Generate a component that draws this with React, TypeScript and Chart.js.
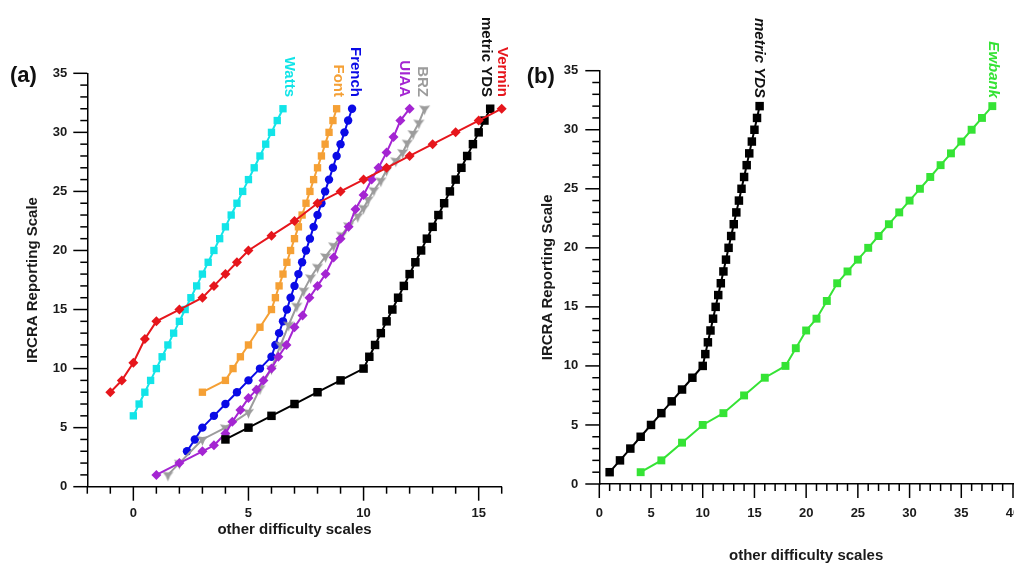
import React, { useEffect, useRef } from 'react';
import { Chart, registerables } from 'chart.js';

Chart.register(...registerables);

const FONT = '"Liberation Sans", Arial, Helvetica, sans-serif';

// ---------- Panel (a) data ----------
const wattsX = [0, 0.25, 0.5, 0.75, 1, 1.25, 1.5, 1.75, 2, 2.25, 2.5, 2.75, 3, 3.25, 3.5, 3.75, 4, 4.25, 4.5, 4.75, 5, 5.25, 5.5, 5.75, 6, 6.25, 6.5];
const wattsY = [6, 7, 8, 9, 10, 11, 12, 13, 14, 15, 16, 17, 18, 19, 20, 21, 22, 23, 24, 25, 26, 27, 28, 29, 30, 31, 32];

const fontX = [3, 4, 4.33, 4.65, 5, 5.5, 6, 6.17, 6.33, 6.5, 6.67, 6.83, 7, 7.17, 7.33, 7.5, 7.67, 7.83, 8, 8.17, 8.33, 8.5, 8.67, 8.83];
const fontY = [8, 9, 10, 11, 12, 13.5, 15, 16, 17, 18, 19, 20, 21, 22, 23, 24, 25, 26, 27, 28, 29, 30, 31, 32];

const frenchX = [2.33, 2.67, 3, 3.5, 4, 4.5, 5, 5.5, 6, 6.17, 6.33, 6.5, 6.67, 6.83, 7, 7.17, 7.33, 7.5, 7.67, 7.83, 8, 8.17, 8.33, 8.5, 8.67, 8.83, 9, 9.17, 9.33, 9.5];
const frenchY = [3, 4, 5, 6, 7, 8, 9, 10, 11, 12, 13, 14, 15, 16, 17, 18, 19, 20, 21, 22, 23, 24, 25, 26, 27, 28, 29, 30, 31, 32];

const uiaaX = [1, 2, 3, 3.5, 4, 4.3, 4.65, 5, 5.35, 5.65, 6, 6.3, 6.65, 7, 7.35, 7.65, 8, 8.35, 8.7, 9, 9.35, 9.65, 10, 10.35, 10.65, 11, 11.3, 11.6, 12];
const uiaaY = [1, 2, 3, 3.5, 4.5, 5.5, 6.5, 7.5, 8.2, 9, 10, 11, 12, 13.5, 14.5, 16, 17, 18, 19.4, 21, 22, 23.5, 24.7, 26, 27, 28.3, 29.6, 31, 32];

const brzX = [1.5, 2, 3, 4, 5, 5.5, 6, 6.4, 6.75, 7.1, 7.4, 7.7, 8, 8.35, 8.7, 9.05, 9.35, 9.75, 10, 10.2, 10.45, 10.75, 11, 11.4, 11.7, 11.9, 12.15, 12.4, 12.65];
const brzY = [1, 2, 4, 5, 6.3, 8.3, 10, 12, 13.7, 15.3, 16.6, 17.7, 18.6, 19.5, 20.4, 21.3, 22.1, 22.9, 23.6, 24.3, 25.1, 25.9, 26.8, 27.6, 28.3, 29.1, 29.9, 30.8, 32];

const ydsAX = [4, 5, 6, 7, 8, 9, 10, 10.25, 10.5, 10.75, 11, 11.25, 11.5, 11.75, 12, 12.25, 12.5, 12.75, 13, 13.25, 13.5, 13.75, 14, 14.25, 14.5, 14.75, 15, 15.25, 15.5];
const ydsAY = [4, 5, 6, 7, 8, 9, 10, 11, 12, 13, 14, 15, 16, 17, 18, 19, 20, 21, 22, 23, 24, 25, 26, 27, 28, 29, 30, 31, 32];

const verminX = [-1, -0.5, 0, 0.5, 1, 2, 3, 3.5, 4, 4.5, 5, 6, 7, 8, 9, 10, 11, 12, 13, 14, 15, 16];
const verminY = [8, 9, 10.5, 12.5, 14, 15, 16, 17, 18, 19, 20, 21.25, 22.5, 24, 25, 26, 27, 28, 29, 30, 31, 32];

// ---------- Panel (b) data ----------
const ydsBX = [1, 2, 3, 4, 5, 6, 7, 8, 9, 10, 10.25, 10.5, 10.75, 11, 11.25, 11.5, 11.75, 12, 12.25, 12.5, 12.75, 13, 13.25, 13.5, 13.75, 14, 14.25, 14.5, 14.75, 15, 15.25, 15.5];
const ydsBY = [1, 2, 3, 4, 5, 6, 7, 8, 9, 10, 11, 12, 13, 14, 15, 16, 17, 18, 19, 20, 21, 22, 23, 24, 25, 26, 27, 28, 29, 30, 31, 32];

const ewbankX = [4, 6, 8, 10, 12, 14, 16, 18, 19, 20, 21, 22, 23, 24, 25, 26, 27, 28, 29, 30, 31, 32, 33, 34, 35, 36, 37, 38];
const ewbankY = [1, 2, 3.5, 5, 6, 7.5, 9, 10, 11.5, 13, 14, 15.5, 17, 18, 19, 20, 21, 22, 23, 24, 25, 26, 27, 28, 29, 30, 31, 32];

// axis ranges / tick labels
const xRangeA = [-2, 16];
const xRangeB = [0, 40];
const yRange = [0, 35];
const xTitle = 'other difficulty scales';
const yTitle = 'IRCRA Reporting Scale';

// colours
const C = {
  watts: '#12e4e8',
  font: '#f5a035',
  french: '#0a0ae6',
  uiaa: '#a425d2',
  brz: '#9c9c9c',
  yds: '#000000',
  vermin: '#e6161c',
  ewbank: '#35e335',
};

// rotated series labels (anchor = data x of label, style layer)
const labelsA = [
  { text: 'Watts', color: C.watts, at: 6.78 },
  { text: 'Font', color: C.font, at: 8.91 },
  { text: 'French', color: C.french, at: 9.64 },
  { text: 'UIAA', color: C.uiaa, at: 11.78 },
  { text: 'BRZ', color: C.brz, at: 12.54 },
  { text: 'metric YDS', color: '#111', at: 15.33 },
  { text: 'Vermin', color: C.vermin, at: 16.02 },
];
const labelsB = [
  { text: 'metric YDS', color: '#111', at: 15.47 },
  { text: 'Ewbank', color: C.ewbank, at: 38.05 },
];

function pts(xs: number[], ys: number[]) {
  return xs.map((x, i) => ({ x, y: ys[i] }));
}

function ds(label: string, xs: number[], ys: number[], color: string, style: any, radius: number) {
  return {
    label,
    data: pts(xs, ys),
    showLine: true,
    borderColor: color,
    backgroundColor: color,
    borderWidth: 2,
    pointStyle: style,
    pointRadius: radius,
    pointBorderWidth: 0,
    pointBackgroundColor: color,
    clip: false,
  };
}

function makeTriMarker(color: string, r: number) {
  const c = document.createElement('canvas');
  const s = Math.ceil(r * 2 + 2);
  c.width = s;
  c.height = s;
  const ctx = c.getContext('2d')!;
  ctx.fillStyle = color;
  ctx.beginPath();
  const cx = s / 2;
  const cy = s / 2;
  for (let k = 0; k < 6; k++) {
    const ang = Math.PI / 2 + (k * Math.PI) / 3;
    const rad = k % 2 === 0 ? r : r * 0.38;
    const px = cx + Math.cos(ang) * rad;
    const py = cy + Math.sin(ang) * rad;
    if (k === 0) ctx.moveTo(px, py);
    else ctx.lineTo(px, py);
  }
  ctx.closePath();
  ctx.fill();
  return c;
}

interface PanelCfg {
  xRange: number[];
  yAxisWidth: number;
  xAxisHeight: number;
  padding: { left: number; top: number; right: number; bottom: number };
  xLabelPad: number;
  yLabelPad: number;
  xTitlePad: number;
  yTitlePad: number;
  letter: string;
  letterX: number;
  letterY: number;
  labelEndY: number;
  italic: boolean;
  labels: { text: string; color: string; at: number }[];
}

function decorPlugin(cfg: PanelCfg) {
  return {
    id: 'decor',
    afterDraw(chart: any) {
      const ctx = chart.ctx as CanvasRenderingContext2D;
      const xs = chart.scales.x;
      const ys = chart.scales.y;
      const area = chart.chartArea;
      ctx.save();
      ctx.strokeStyle = '#000';
      ctx.lineWidth = 1.5;
      for (let v = Math.ceil(xs.min); v <= xs.max; v++) {
        const p = xs.getPixelForValue(v);
        const len = v % 5 === 0 ? 14 : 7;
        ctx.beginPath();
        ctx.moveTo(p, area.bottom);
        ctx.lineTo(p, area.bottom + len);
        ctx.stroke();
      }
      for (let v = Math.ceil(ys.min); v <= ys.max; v++) {
        const p = ys.getPixelForValue(v);
        const len = v % 5 === 0 ? 14 : 7;
        ctx.beginPath();
        ctx.moveTo(area.left - len, p);
        ctx.lineTo(area.left, p);
        ctx.stroke();
      }
      ctx.fillStyle = '#111';
      ctx.font = `bold 22px ${FONT}`;
      ctx.textAlign = 'left';
      ctx.textBaseline = 'middle';
      ctx.fillText(cfg.letter, cfg.letterX, cfg.letterY);
      for (const l of cfg.labels) {
        ctx.save();
        ctx.translate(xs.getPixelForValue(l.at), cfg.labelEndY);
        ctx.rotate(Math.PI / 2);
        ctx.textAlign = 'right';
        ctx.textBaseline = 'middle';
        ctx.fillStyle = l.color;
        ctx.font = `${cfg.italic ? 'italic ' : ''}bold 15px ${FONT}`;
        ctx.fillText(l.text, 0, 0);
        ctx.restore();
      }
      ctx.restore();
    },
  };
}

function makeOptions(cfg: PanelCfg): any {
  const tickFont = { family: FONT, size: 13, weight: 'bold' as const };
  const titleFont = { family: FONT, size: 15, weight: 'bold' as const, lineHeight: 1 };
  return {
    responsive: false,
    maintainAspectRatio: false,
    animation: false,
    devicePixelRatio: 1,
    layout: { padding: cfg.padding },
    plugins: { legend: { display: false }, tooltip: { enabled: false } },
    scales: {
      x: {
        type: 'linear',
        min: cfg.xRange[0],
        max: cfg.xRange[1],
        afterFit: (s: any) => {
          s.height = cfg.xAxisHeight;
          s.paddingLeft = 0;
          s.paddingRight = 0;
        },
        ticks: {
          stepSize: 1,
          autoSkip: false,
          maxRotation: 0,
          minRotation: 0,
          padding: cfg.xLabelPad,
          color: '#1a1a1a',
          font: tickFont,
          callback: (v: number) => (Math.round(v) % 5 === 0 ? String(Math.round(v)) : ''),
        },
        grid: { display: true, drawOnChartArea: false, drawTicks: true, tickLength: 14, tickColor: 'rgba(0,0,0,0)' },
        border: { display: true, color: '#000', width: 1.5 },
        title: { display: true, text: xTitle, color: '#1a1a1a', font: titleFont, padding: { top: 0, bottom: cfg.xTitlePad } },
      },
      y: {
        type: 'linear',
        min: yRange[0],
        max: yRange[1],
        afterFit: (s: any) => {
          s.width = cfg.yAxisWidth;
        },
        ticks: {
          stepSize: 1,
          autoSkip: false,
          padding: cfg.yLabelPad,
          color: '#1a1a1a',
          font: tickFont,
          callback: (v: number) => (Math.round(v) % 5 === 0 ? String(Math.round(v)) : ''),
        },
        grid: { display: true, drawOnChartArea: false, drawTicks: true, tickLength: 14, tickColor: 'rgba(0,0,0,0)' },
        border: { display: true, color: '#000', width: 1.5 },
        title: { display: true, text: yTitle, color: '#1a1a1a', font: titleFont, padding: { top: cfg.yTitlePad, bottom: 0 } },
      },
    },
  };
}

const cfgA: PanelCfg = {
  xRange: xRangeA,
  yAxisWidth: 87.3,
  xAxisHeight: 60,
  padding: { left: 0, top: 73.3, right: 18.3, bottom: 16.3 },
  xLabelPad: 4.5,
  yLabelPad: 6,
  xTitlePad: 9.2,
  yTitlePad: 25.5,
  letter: '(a)',
  letterX: 10,
  letterY: 76,
  labelEndY: 97,
  italic: false,
  labels: labelsA,
};

// canvas B is 520 wide (clipped by the 1014px container), chart area ends at x = 1013
const cfgB: PanelCfg = {
  xRange: xRangeB,
  yAxisWidth: 79.3,
  xAxisHeight: 79,
  padding: { left: 0, top: 70.7, right: 27, bottom: 0 },
  xLabelPad: 7.2,
  yLabelPad: 7,
  xTitlePad: 0,
  yTitlePad: 20.8,
  letter: '(b)',
  letterX: 6.7,
  letterY: 77,
  labelEndY: 98,
  italic: true,
  labels: labelsB,
};

export default function App() {
  const refA = useRef<HTMLCanvasElement>(null);
  const refB = useRef<HTMLCanvasElement>(null);

  useEffect(() => {
    const tri = makeTriMarker(C.brz, 6.5);
    const chartA = new Chart(refA.current!, {
      type: 'scatter',
      data: {
        datasets: [
          ds('Vermin', verminX, verminY, C.vermin, 'rectRot', 5),
          ds('metric YDS', ydsAX, ydsAY, C.yds, 'rect', 6),
          ds('UIAA', uiaaX, uiaaY, C.uiaa, 'rectRot', 5),
          ds('BRZ', brzX, brzY, C.brz, tri, 6),
          ds('French', frenchX, frenchY, C.french, 'circle', 4.2),
          ds('Font', fontX, fontY, C.font, 'rect', 5.2),
          ds('Watts', wattsX, wattsY, C.watts, 'rect', 5.2),
        ] as any,
      },
      options: makeOptions(cfgA),
      plugins: [decorPlugin(cfgA)],
    });
    const chartB = new Chart(refB.current!, {
      type: 'scatter',
      data: {
        datasets: [
          ds('metric YDS', ydsBX, ydsBY, C.yds, 'rect', 6),
          ds('Ewbank', ewbankX, ewbankY, C.ewbank, 'rect', 5.6),
        ] as any,
      },
      options: makeOptions(cfgB),
      plugins: [decorPlugin(cfgB)],
    });
    return () => {
      chartA.destroy();
      chartB.destroy();
    };
  }, []);

  return (
    <div style={{ position: 'absolute', left: 0, top: 0, width: 1014, height: 563, overflow: 'hidden', background: '#fff' }}>
      <canvas ref={refA} width={520} height={563} style={{ position: 'absolute', left: 0, top: 0, width: 520, height: 563 }} />
      <canvas ref={refB} width={520} height={563} style={{ position: 'absolute', left: 520, top: 0, width: 520, height: 563 }} />
    </div>
  );
}
